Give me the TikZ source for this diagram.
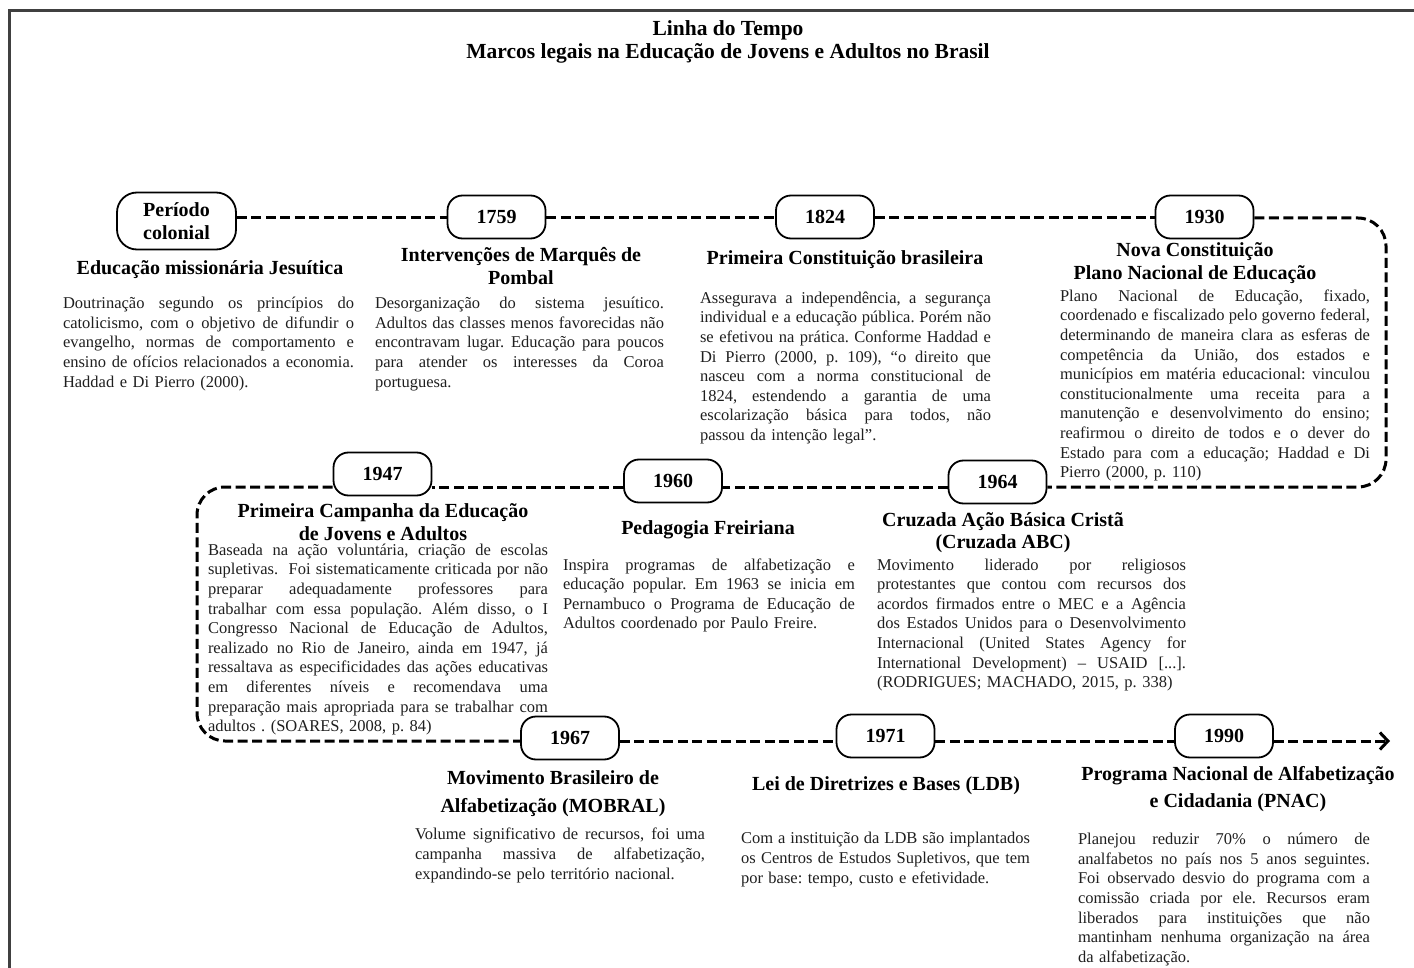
\documentclass[tikz,border=0pt]{standalone}
\usepackage{fontspec}
\setmainfont{Liberation Serif}
\usetikzlibrary{arrows.meta}
\frenchspacing
\newcommand\jl[1]{\hbox to \hsize{\spaceskip=0.25em plus 8em minus 0.1em\relax\xspaceskip=\spaceskip #1}\par}
\newcommand\bodyfont{\fontsize{16.5}{19.6}\selectfont\frenchspacing}
\newcommand\headfont{\fontsize{20}{22.5}\selectfont\bfseries}
\newcommand\headfontb{\fontsize{20}{27.5}\selectfont\bfseries}
\begin{document}
\begin{tikzpicture}[x=1pt,y=-1pt,
  tl/.style={line width=3pt, dash pattern=on 10pt off 4.5pt, black},
  yearbox/.style={draw, line width=1.8pt, rounded corners=15pt, minimum width=98pt,
    minimum height=43pt, inner sep=0pt, font=\fontsize{20}{22.5}\selectfont\bfseries,
    fill=white, align=center},
  head/.style={font=\headfont, align=center, inner sep=0pt},
  headb/.style={font=\headfontb, align=center, inner sep=0pt},
  desc/.style={font=\bodyfont, inner sep=0pt, text=black!88},
  maintitle/.style={font=\fontsize{21.5}{23}\selectfont\bfseries, align=center, inner sep=0pt}
]
\useasboundingbox (0,0) rectangle (1414,968);
\fill[white] (0,0) rectangle (1414,968);
\draw[line width=2.5pt, black!75] (9.5,968) -- (9.5,10.5) -- (1414,10.5);

\node[maintitle] (title) at (728,41.5) {Linha do Tempo\\Marcos legais na Educação de Jovens e Adultos no Brasil};

% row guide coordinates
\coordinate (r1) at (0,218);
\coordinate (r2) at (0,487);
\coordinate (r3) at (0,741);

% year boxes
\node[yearbox, minimum width=119pt, minimum height=57pt, rounded corners=20pt] (pc) at (176.5,221) {Período\\colonial};
\node[yearbox] (y1759) at (496.5,217) {1759};
\node[yearbox] (y1824) at (825,217) {1824};
\node[yearbox] (y1930) at (1204.5,217) {1930};
\node[yearbox] (y1947) at (382.5,474) {1947};
\node[yearbox] (y1960) at (673,481) {1960};
\node[yearbox] (y1964) at (997.5,482) {1964};
\node[yearbox] (y1967) at (570,738) {1967};
\node[yearbox] (y1971) at (885.5,736) {1971};
\node[yearbox] (y1990) at (1224,736) {1990};

% timeline connectors
\coordinate (cne) at (1386,218);
\coordinate (cse) at (1386,487);
\coordinate (cnw) at (197,487);
\coordinate (csw) at (197,741);
\coordinate (aend) at (1390,741);
\draw[tl] (pc.east |- r1) -- (y1759.west |- r1);
\draw[tl] (y1759.east |- r1) -- (y1824.west |- r1);
\draw[tl] (y1824.east |- r1) -- (y1930.west |- r1);
\draw[tl, rounded corners=28pt] (y1930.east |- r1) -- (cne) -- (cse) -- (y1964.east |- r2);
\draw[tl] (y1964.west |- r2) -- (y1960.east |- r2);
\draw[tl] (y1960.west |- r2) -- (y1947.east |- r2);
\draw[tl, rounded corners=28pt] (y1947.west |- r2) -- (cnw) -- (csw) -- (y1967.west |- r3);
\draw[tl] (y1967.east |- r3) -- (y1971.west |- r3);
\draw[tl] (y1971.east |- r3) -- (y1990.west |- r3);
\draw[tl, -{Straight Barb[length=8pt,width=17pt,line width=3pt]}] (y1990.east |- r3) -- (aend);

% headings
\node[head] (h1) at (210,270) {Educação missionária Jesuítica};
\node[head] (h2) at (521,266) {Intervenções de Marquês de\\Pombal};
\node[head] (h3) at (845,260) {Primeira Constituição brasileira};
\node[head] (h4) at (1195,263) {Nova Constituição\\Plano Nacional de Educação};
\node[head] (h5) at (383,522) {Primeira Campanha da Educação\\de Jovens e Adultos};
\node[head] (h6) at (708,530) {Pedagogia Freiriana};
\node[head] (h7) at (1003,532.5) {Cruzada Ação Básica Cristã\\(Cruzada ABC)};
\node[headb] (h8) at (553,793.5) {Movimento Brasileiro de\\Alfabetização (MOBRAL)};
\node[head] (h9) at (886,786) {Lei de Diretrizes e Bases (LDB)};
\node[headb] (h10) at (1238,789) {Programa Nacional de Alfabetização\\e Cidadania (PNAC)};

% descriptions
\node[desc, text width=291pt] (d1) at (208.5,344) {%
\jl{Doutrinação segundo os princípios do}%
\jl{catolicismo, com o objetivo de difundir o}%
\jl{evangelho, normas de comportamento e}%
\jl{ensino de ofícios relacionados a economia.}%
Haddad e Di Pierro (2000).};

\node[desc, text width=289pt] (d2) at (519.5,344) {%
\jl{Desorganização do sistema jesuítico.}%
\jl{Adultos das classes menos favorecidas não}%
\jl{encontravam lugar. Educação para poucos}%
\jl{para atender os interesses da Coroa}%
portuguesa.};

\node[desc, text width=291pt] (d3) at (845.5,368) {%
\jl{Assegurava a independência, a segurança}%
\jl{individual e a educação pública. Porém não}%
\jl{se efetivou na prática. Conforme Haddad e}%
\jl{Di Pierro (2000, p. 109), “o direito que}%
\jl{nasceu com a norma constitucional de}%
\jl{1824, estendendo a garantia de uma}%
\jl{escolarização básica para todos, não}%
passou da intenção legal”.};

\node[desc, text width=310pt] (d4) at (1215,385.5) {%
\jl{Plano Nacional de Educação, fixado,}%
\jl{coordenado e fiscalizado pelo governo federal,}%
\jl{determinando de maneira clara as esferas de}%
\jl{competência da União, dos estados e}%
\jl{municípios em matéria educacional: vinculou}%
\jl{constitucionalmente uma receita para a}%
\jl{manutenção e desenvolvimento do ensino;}%
\jl{reafirmou o direito de todos e o dever do}%
\jl{Estado para com a educação; Haddad e Di}%
Pierro (2000, p. 110)};

\node[desc, text width=340pt] (d5) at (378,639.5) {%
\jl{Baseada na ação voluntária, criação de escolas}%
\jl{supletivas.\ \ Foi sistematicamente criticada por não}%
\jl{preparar adequadamente professores para}%
\jl{trabalhar com essa população. Além disso, o I}%
\jl{Congresso Nacional de Educação de Adultos,}%
\jl{realizado no Rio de Janeiro, ainda em 1947, já}%
\jl{ressaltava as especificidades das ações educativas}%
\jl{em diferentes níveis e recomendava uma}%
\jl{preparação mais apropriada para se trabalhar com}%
adultos . (SOARES, 2008, p. 84)};

\node[desc, text width=292pt] (d6) at (709,595.5) {%
\jl{Inspira programas de alfabetização e}%
\jl{educação popular. Em 1963 se inicia em}%
\jl{Pernambuco o Programa de Educação de}%
Adultos coordenado por Paulo Freire.};

\node[desc, text width=309pt] (d7) at (1031.5,625) {%
\jl{Movimento liderado por religiosos}%
\jl{protestantes que contou com recursos dos}%
\jl{acordos firmados entre o MEC e a Agência}%
\jl{dos Estados Unidos para o Desenvolvimento}%
\jl{Internacional (United States Agency for}%
\jl{International Development) – USAID [...].}%
(RODRIGUES; MACHADO, 2015, p. 338)};

\node[desc, text width=290pt] (d8) at (560,855.5) {%
\jl{Volume significativo de recursos, foi uma}%
\jl{campanha massiva de alfabetização,}%
expandindo-se pelo território nacional.};

\node[desc, text width=289pt] (d9) at (885.5,859.5) {%
\jl{Com a instituição da LDB são implantados}%
\jl{os Centros de Estudos Supletivos, que tem}%
por base: tempo, custo e efetividade.};

\node[desc, text width=292pt] (d10) at (1224,899.5) {%
\jl{Planejou reduzir 70\% o número de}%
\jl{analfabetos no país nos 5 anos seguintes.}%
\jl{Foi observado desvio do programa com a}%
\jl{comissão criada por ele. Recursos eram}%
\jl{liberados para instituições que não}%
\jl{mantinham nenhuma organização na área}%
da alfabetização.};
\end{tikzpicture}
\end{document}
